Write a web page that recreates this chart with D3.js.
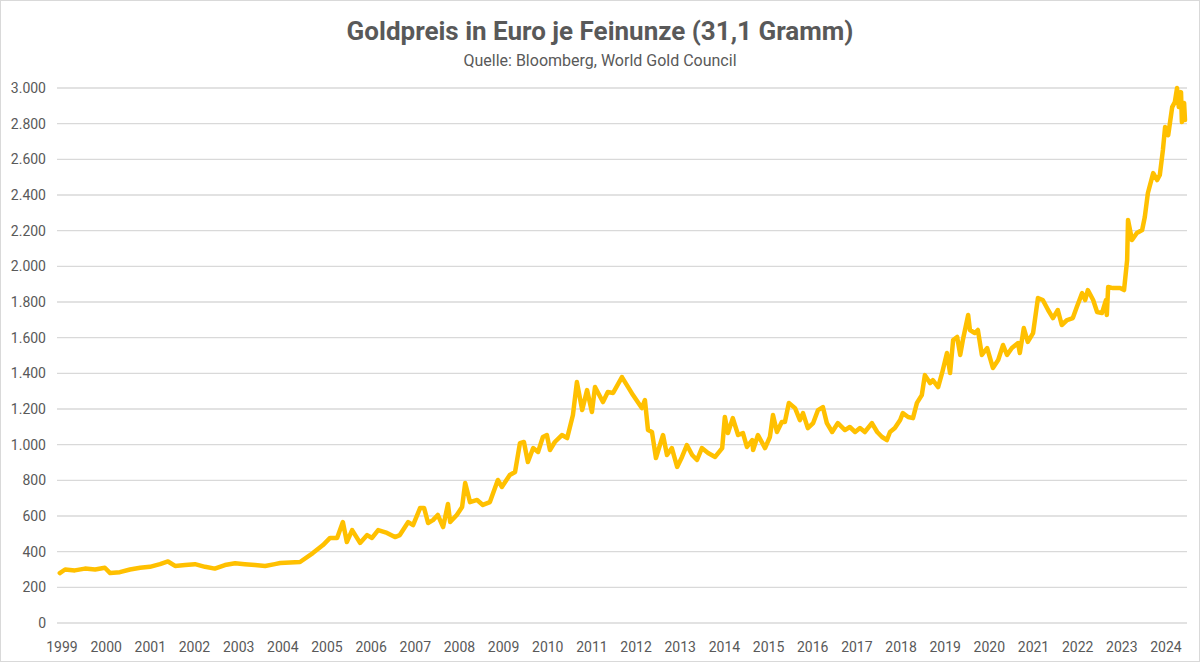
<!DOCTYPE html>
<html><head><meta charset="utf-8">
<script src="https://cdn.jsdelivr.net/npm/d3@7"></script>
<style>body{margin:0;background:#fff}svg{font-family:Roboto,"Open Sans",sans-serif}</style>
</head><body><svg id="c" width="1200" height="662"></svg>
<script>
const years = [1998.95,1999.07,1999.29,1999.52,1999.75,1999.97,2000.09,2000.31,2000.54,2000.77,2000.99,2001.22,2001.40,2001.56,2001.79,2002.01,2002.24,2002.46,2002.69,2002.92,2003.14,2003.37,2003.60,2003.82,2003.94,2004.39,2004.68,2004.91,2005.07,2005.23,2005.36,2005.45,2005.57,2005.75,2005.91,2006.02,2006.16,2006.36,2006.54,2006.65,2006.84,2006.95,2007.11,2007.20,2007.29,2007.40,2007.51,2007.63,2007.74,2007.79,2007.94,2008.06,2008.13,2008.24,2008.40,2008.53,2008.69,2008.87,2008.96,2009.14,2009.26,2009.37,2009.46,2009.55,2009.67,2009.78,2009.89,2009.98,2010.05,2010.16,2010.32,2010.44,2010.57,2010.66,2010.78,2010.89,2011.00,2011.07,2011.25,2011.36,2011.48,2011.68,2011.82,2011.93,2012.13,2012.20,2012.27,2012.36,2012.45,2012.54,2012.61,2012.70,2012.81,2012.93,2013.04,2013.15,2013.27,2013.38,2013.49,2013.63,2013.79,2013.95,2014.01,2014.08,2014.19,2014.31,2014.42,2014.51,2014.63,2014.65,2014.76,2014.92,2015.03,2015.10,2015.19,2015.30,2015.37,2015.46,2015.60,2015.71,2015.78,2015.89,2016.01,2016.12,2016.23,2016.32,2016.44,2016.57,2016.73,2016.84,2016.96,2017.07,2017.18,2017.34,2017.46,2017.57,2017.68,2017.75,2017.86,2017.98,2018.04,2018.16,2018.27,2018.36,2018.47,2018.54,2018.66,2018.72,2018.84,2018.93,2019.04,2019.11,2019.18,2019.27,2019.34,2019.40,2019.52,2019.56,2019.67,2019.74,2019.83,2019.95,2020.08,2020.20,2020.31,2020.40,2020.51,2020.65,2020.69,2020.78,2020.87,2020.99,2021.10,2021.21,2021.33,2021.44,2021.55,2021.64,2021.76,2021.89,2021.98,2022.10,2022.17,2022.23,2022.35,2022.44,2022.55,2022.64,2022.66,2022.69,2022.80,2022.96,2023.05,2023.12,2023.14,2023.23,2023.34,2023.46,2023.52,2023.59,2023.71,2023.80,2023.86,2023.93,2023.98,2024.05,2024.14,2024.20,2024.25,2024.29,2024.34,2024.36,2024.41,2024.43];
const prices = [280,300,295,305,300,310,280,285,300,310,315,330,345,320,325,330,315,305,325,335,330,325,320,330,336,342,392,437,477,477,566,454,521,449,493,477,521,505,482,493,566,549,645,645,561,577,606,538,667,566,606,650,785,678,690,662,678,802,763,830,847,1009,1015,903,981,959,1043,1054,970,1015,1054,1037,1166,1351,1194,1306,1183,1323,1239,1295,1290,1379,1323,1278,1205,1250,1082,1071,925,998,1054,942,981,875,931,998,942,914,981,953,931,981,1155,1065,1149,1054,1065,987,1026,970,1054,981,1043,1166,1071,1127,1127,1234,1205,1138,1177,1093,1121,1194,1211,1121,1071,1121,1082,1099,1071,1093,1071,1121,1071,1043,1026,1071,1093,1138,1177,1155,1149,1234,1278,1390,1345,1362,1323,1402,1514,1402,1587,1604,1503,1587,1727,1643,1626,1643,1503,1542,1430,1475,1559,1503,1542,1570,1514,1654,1576,1626,1822,1811,1755,1710,1755,1671,1699,1710,1772,1850,1811,1867,1811,1744,1738,1811,1727,1884,1878,1878,1867,2035,2260,2148,2187,2204,2277,2411,2523,2484,2512,2652,2781,2736,2893,2921,3000,2893,2977,2809,2916,2820];
const yTicks = [0,200,400,600,800,1000,1200,1400,1600,1800,2000,2200,2400,2600,2800,3000];
const xTicks = d3.range(1999,2025);
const title = "Goldpreis in Euro je Feinunze (31,1 Gramm)";
const subtitle = "Quelle: Bloomberg, World Gold Council";

const svg = d3.select("#c");
svg.append("rect").attr("x",0.5).attr("y",0.5).attr("width",1199).attr("height",661).attr("fill","#fff").attr("stroke","#d9d9d9");
const x = d3.scaleLinear().domain([1999,2024]).range([62,1166]);
const y = d3.scaleLinear().domain([0,3000]).range([623,88]);
const fmt = d3.formatLocale({decimal:",",thousands:".",grouping:[3],currency:["","€"]}).format(",");

svg.append("g").selectAll("line").data(yTicks).join("line")
  .attr("x1",57).attr("x2",1187).attr("y1",d=>y(d)).attr("y2",d=>y(d))
  .attr("stroke","#d9d9d9").attr("stroke-width",1.3);
svg.append("g").selectAll("text").data(yTicks).join("text")
  .attr("x",46).attr("y",d=>y(d)).attr("dy","0.35em").attr("text-anchor","end")
  .attr("font-size",14).attr("fill","#595959").text(d=>fmt(d));
svg.append("g").selectAll("text").data(xTicks).join("text")
  .attr("x",d=>x(d)).attr("y",647).attr("dy","0.35em").attr("text-anchor","middle")
  .attr("font-size",14).attr("fill","#595959").text(d=>d);

const pts = years.map((t,i)=>[t,prices[i]]);
svg.append("path").datum(pts).attr("fill","none").attr("stroke","#FFC000")
  .attr("stroke-width",4.5).attr("stroke-linejoin","round").attr("stroke-linecap","round")
  .attr("d",d3.line().x(d=>x(d[0])).y(d=>y(d[1])));

svg.append("text").attr("x",600).attr("y",40).attr("text-anchor","middle")
  .attr("font-size",26).attr("font-weight","bold").attr("fill","#595959").text(title);
svg.append("text").attr("x",600).attr("y",66).attr("text-anchor","middle")
  .attr("font-size",16).attr("fill","#595959").text(subtitle);
</script></body></html>
